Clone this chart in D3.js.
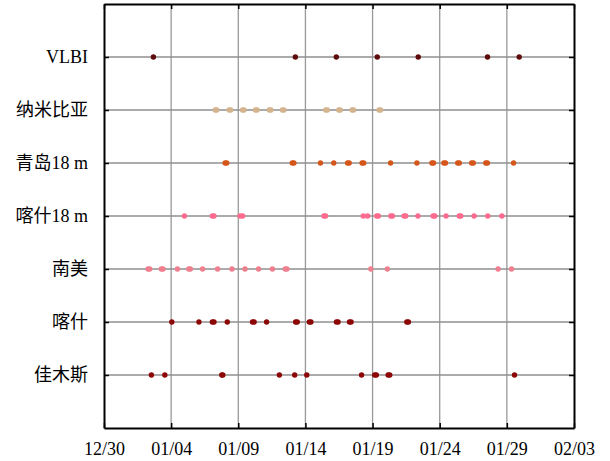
<!DOCTYPE html>
<html>
<head>
<meta charset="utf-8">
<script src="https://cdn.jsdelivr.net/npm/d3@7"></script>
<style>
  body { margin: 0; background: #fff; }
  text { font-family: "Liberation Serif", "Noto Sans CJK SC", serif; }
</style>
</head>
<body>
<div id="chart"></div>
<script>
// stations, top to bottom
var stations = ["VLBI", "纳米比亚", "青岛18 m", "喀什18 m", "南美", "喀什", "佳木斯"];
var colors = ["#5e0b0b", "#d4b48e", "#d4561a", "#ff6b8e", "#ef7f8e", "#8c0606", "#8c0606"];

// observation times, days after 12/30
var vlbi = [3.68, 14.25, 17.3, 20.35, 23.4, 28.56, 30.92];
var namibia = [8.28, 8.4, 9.32, 9.44, 10.31, 10.43, 11.28, 11.4, 12.31, 12.43, 13.28, 13.4,
               16.51, 16.63, 17.48, 17.6, 18.47, 18.59, 20.48, 20.6];
var qingdao18 = [9.02, 9.14, 14.02, 14.14, 16.12, 17.11, 18.14, 18.26, 19.22, 19.34, 21.34, 23.3,
                 24.42, 24.54, 25.31, 25.43, 26.34, 26.46, 27.38, 27.5, 28.43, 28.55, 30.5];
var kashi18 = [5.99, 8.07, 8.19, 10.13, 10.32, 16.38, 16.5, 19.31, 19.63, 20.31, 20.43,
               21.36, 21.48, 22.35, 22.47, 23.38, 24.51, 24.63, 25.47, 26.45, 26.57, 27.56, 28.58, 29.63];
var nanmei = [3.28, 3.4, 4.27, 4.39, 5.47, 6.31, 6.43, 7.34, 8.46, 9.53, 10.5, 11.51, 12.54,
              13.5, 13.62, 19.87, 21.1, 29.35, 30.35];
var kashi = [5.05, 7.07, 8.07, 8.19, 9.18, 11.06, 11.18, 12.11, 14.27, 14.39, 15.29, 15.41,
             17.31, 17.43, 18.28, 18.4, 22.55, 22.67];
var jiamusi = [3.53, 4.53, 8.77, 8.85, 13.06, 14.2, 15.1, 19.18, 20.16, 20.28, 21.16, 21.28, 30.57];

var series = [vlbi, namibia, qingdao18, kashi18, nanmei, kashi, jiamusi];

var startDay = Date.UTC(2023, 11, 30);
var endDay = Date.UTC(2024, 1, 3);
var dayMs = 864e5;
var tickDates = d3.range(0, 36, 5).map(function (d) { return new Date(startDay + d * dayMs); });

var width = 610, height = 461;
var plotLeft = 104, plotRight = 574, plotTop = 4, plotBottom = 428;

var svg = d3.select("#chart").append("svg")
            .attr("width", width)
            .attr("height", height);

var x = d3.scaleUtc()
          .domain([new Date(startDay), new Date(endDay)])
          .range([plotLeft, plotRight]);

// row 7 is the top station, row 1 the bottom one
var y = d3.scaleLinear()
          .domain([0, 8])
          .range([plotBottom, plotTop]);

function rowOf(i) { return stations.length - i; }

// vertical grid
svg.append("g")
   .selectAll("line")
   .data(tickDates.slice(1, -1))
   .join("line")
   .attr("x1", function (d) { return x(d); })
   .attr("x2", function (d) { return x(d); })
   .attr("y1", plotTop)
   .attr("y2", plotBottom)
   .attr("stroke", "#999")
   .attr("stroke-width", 1.3);

// horizontal grid
svg.append("g")
   .selectAll("line")
   .data(stations)
   .join("line")
   .attr("x1", plotLeft)
   .attr("x2", plotRight)
   .attr("y1", function (d, i) { return y(rowOf(i)); })
   .attr("y2", function (d, i) { return y(rowOf(i)); })
   .attr("stroke", "#8f8f8f")
   .attr("stroke-width", 1.3);

// points
series.forEach(function (vals, i) {
    svg.append("g")
       .selectAll("circle")
       .data(vals)
       .join("circle")
       .attr("cx", function (d) { return x(new Date(startDay + d * dayMs)); })
       .attr("cy", y(rowOf(i)))
       .attr("r", 2.7)
       .attr("fill", colors[i]);
});

// axes (ticks point inward)
var fmt = d3.utcFormat("%m/%d");
var xBottom = d3.axisBottom(x).tickValues(tickDates).tickFormat(fmt).tickSizeInner(-5).tickSizeOuter(0).tickPadding(14);
var xTop = d3.axisTop(x).tickValues(tickDates).tickFormat("").tickSizeInner(-5).tickSizeOuter(0);
var rowTicks = d3.range(1, 8);
var yLeft = d3.axisLeft(y).tickValues(rowTicks)
              .tickFormat(function (d) { return stations[stations.length - d]; })
              .tickSizeInner(-5).tickSizeOuter(0).tickPadding(16);
var yRight = d3.axisRight(y).tickValues(rowTicks).tickFormat("").tickSizeInner(-5).tickSizeOuter(0);

function styleAxis(g) {
    g.select(".domain").attr("stroke", "#000").attr("stroke-width", 2);
    g.selectAll(".tick line").attr("stroke", "#000").attr("stroke-width", 1.5);
    g.selectAll(".tick text").attr("fill", "#000").style("font-size", "18px")
     .style("font-family", "'Liberation Serif', 'Noto Sans CJK SC', serif");
}

svg.append("g").attr("transform", "translate(0," + plotBottom + ")").call(xBottom).call(styleAxis);
svg.append("g").attr("transform", "translate(0," + plotTop + ")").call(xTop).call(styleAxis);
svg.append("g").attr("transform", "translate(" + plotLeft + ",0)").call(yLeft).call(styleAxis);
svg.append("g").attr("transform", "translate(" + plotRight + ",0)").call(yRight).call(styleAxis);
</script>
</body>
</html>
